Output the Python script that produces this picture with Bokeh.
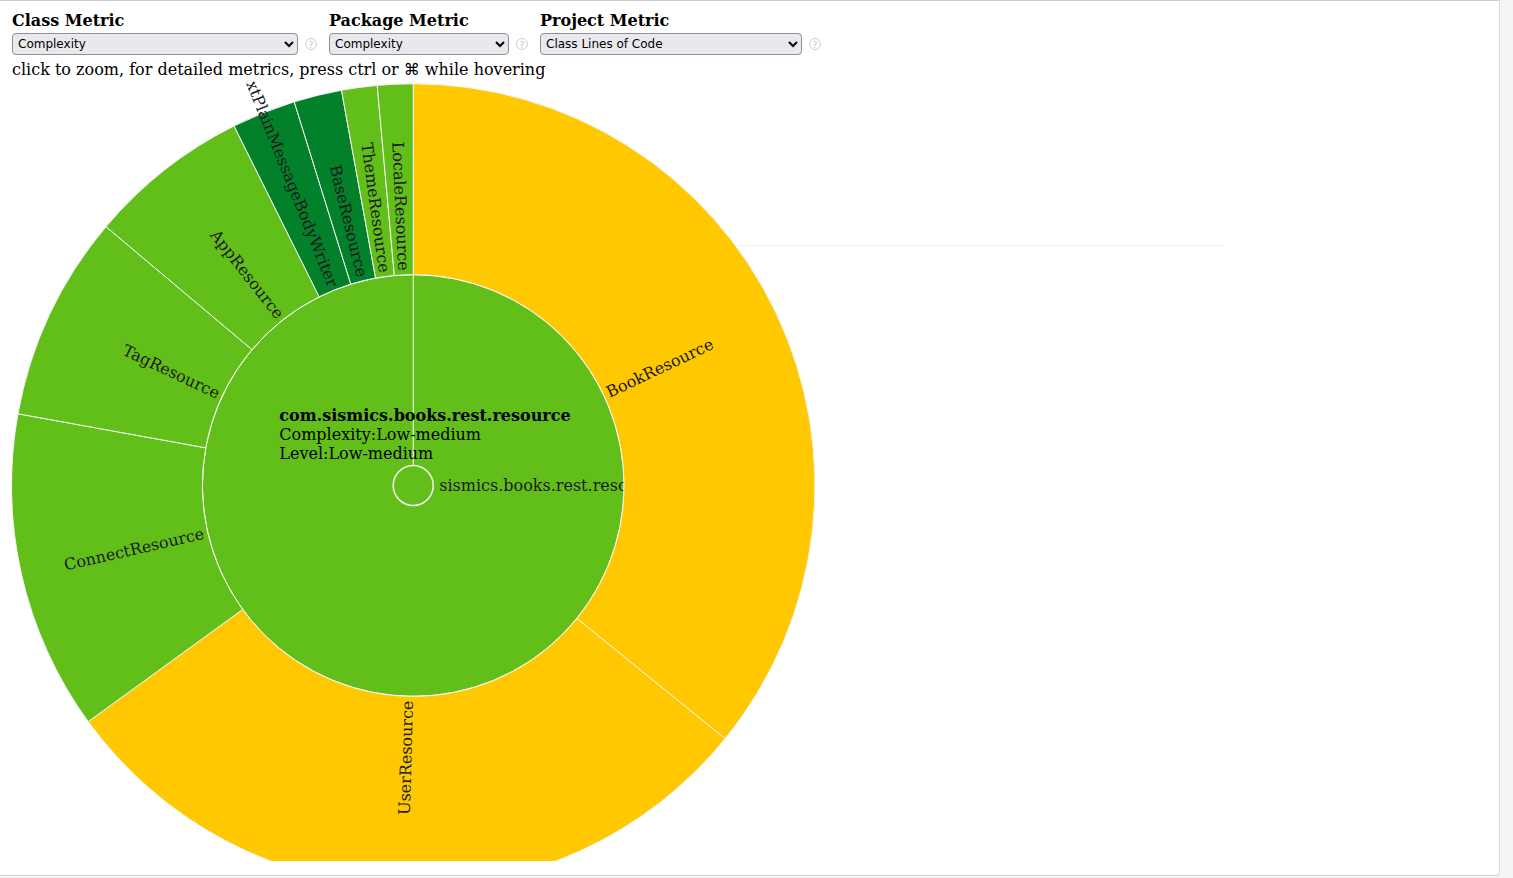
import math
from bokeh.plotting import figure
from bokeh.models import Range1d, Div, ColumnDataSource
from bokeh.layouts import column
from bokeh.core.properties import value
from bokeh.embed import file_html
from bokeh.resources import INLINE

# ---------------- data ----------------
classes = ["BookResource", "UserResource", "ConnectResource", "TagResource",
           "AppResource", "TextPlainMessageBodyWriter", "BaseResource",
           "ThemeResource", "LocaleResource"]
class_loc = [502, 408, 180, 116, 91, 36, 27, 20, 20]
class_complexity = ["Medium-high", "Medium-high", "Low-medium", "Low-medium",
                    "Low-medium", "Low", "Low", "Low-medium", "Low-medium"]
package_name = "com.sismics.books.rest.resource"
package_complexity = "Low-medium"
package_level = "Low-medium"
root_label = "sismics.books.rest.resource"
level_colors = {"Low": "#03802A", "Low-medium": "#62BF1A", "Medium-high": "#FFC800"}
metric_titles = ["Class Metric", "Package Metric", "Project Metric"]
metric_selected = ["Complexity", "Complexity", "Class Lines of Code"]
hint = "click to zoom, for detailed metrics, press ctrl or \u2318 while hovering"

# ---------------- geometry ----------------
W, H = 1500, 780
cx, cy = 413, 376
r0, r1, r2 = 20, 211, 402
SERIF = value("DejaVu Serif")

total = float(sum(class_loc))
starts, ends, mids = [], [], []
acc = 0.0
for v in class_loc:
    t0 = acc / total * 2 * math.pi
    acc += v
    t1 = acc / total * 2 * math.pi
    starts.append(math.pi / 2 - t0)
    ends.append(math.pi / 2 - t1)
    mids.append((t0 + t1) / 2)

outer = ColumnDataSource(dict(
    name=classes, start=starts, end=ends,
    color=[level_colors[c] for c in class_complexity]))

p = figure(width=W, height=H, x_range=Range1d(0, W), y_range=Range1d(0, H),
           output_backend="svg", toolbar_location=None, min_border=0,
           outline_line_color=None, background_fill_color="white",
           border_fill_color="white")
p.axis.visible = False
p.grid.visible = False

# faint guide line
p.segment(x0=[735], y0=[616], x1=[1224], y1=[616], line_color="#f0f0f0", line_width=1)

# package ring + root circle
pkg_color = level_colors[package_complexity]
p.annulus(x=cx, y=cy, inner_radius=r0, outer_radius=r1, fill_color=pkg_color,
          line_color="white", line_width=1)
p.segment(x0=[cx], y0=[cy + r0], x1=[cx], y1=[cy + r1], line_color="white", line_width=1)
p.circle(x=[cx], y=[cy], radius=r0, fill_color=pkg_color, line_color="#eeeeee", line_width=1.5)
p.text(x=[cx + 26], y=[cy], text=[root_label], text_font=SERIF, text_font_size="16px",
       text_color="#1a1a1a", text_baseline="middle", text_align="left")

# class ring
p.annular_wedge(x=cx, y=cy, inner_radius=r1, outer_radius=r2, start_angle="start",
                end_angle="end", direction="clock", fill_color="color",
                line_color="#f4f4f4", line_width=1, source=outer)

rl = r1 + 4
right = dict(x=[], y=[], text=[], angle=[])
left = dict(x=[], y=[], text=[], angle=[])
for name, tm in zip(classes, mids):
    phi = math.pi / 2 - tm
    x = cx + rl * math.cos(phi)
    y = cy + rl * math.sin(phi)
    if tm < math.pi:
        d = right; ang = phi
    else:
        d = left; ang = phi + math.pi
    d["x"].append(x); d["y"].append(y); d["text"].append(name); d["angle"].append(ang)

p.text(x="x", y="y", text="text", angle="angle", source=ColumnDataSource(right),
       text_font=SERIF, text_font_size="16px", text_color="#1a1a1a",
       text_align="left", text_baseline="middle")
p.text(x="x", y="y", text="text", angle="angle", source=ColumnDataSource(left),
       text_font=SERIF, text_font_size="16px", text_color="#1a1a1a",
       text_align="right", text_baseline="middle")

# info text
p.text(x=[279], y=[446], text=[package_name], text_font=SERIF, text_font_size="16px",
       text_font_style="bold", text_color="#000", text_baseline="middle")
p.text(x=[279, 279], y=[427, 408],
       text=["Complexity:" + package_complexity, "Level:" + package_level],
       text_font=SERIF, text_font_size="16px", text_color="#000", text_baseline="middle")

# ---------------- header (native controls) ----------------
lefts = [12, 329, 540]
widths = [286, 180, 262]
parts = []
sel_style = ("position:absolute;top:32px;height:22px;box-sizing:border-box;"
             "font-family:'DejaVu Sans',sans-serif;font-size:12px;color:#000;"
             "background:#e9e9ed;border:1px solid #8f8f9d;border-radius:4px;padding:0 1px;")
for t, s, lx, w in zip(metric_titles, metric_selected, lefts, widths):
    parts.append(f"<div style=\"position:absolute;left:{lx}px;top:9px;font-weight:bold;"
                 f"font-size:16px;white-space:nowrap;\">{t}</div>")
    parts.append(f"<select style=\"{sel_style}left:{lx}px;width:{w}px;\"><option>{s}</option></select>")
    parts.append(f"<div style=\"position:absolute;left:{lx + w + 7}px;top:37px;width:12px;height:12px;"
                 "border:1px solid #d0d0d0;border-radius:50%;color:#c0c0c0;font-family:'DejaVu Sans',sans-serif;"
                 "font-size:9px;line-height:12px;text-align:center;\">?</div>")
parts.append(f"<div style=\"position:absolute;left:12px;top:58px;font-size:16px;white-space:nowrap;\">{hint}</div>")
html = ("<div style=\"position:relative;width:1499px;height:80px;font-family:'DejaVu Serif',serif;color:#000;\">"
        + "".join(parts) + "</div>")
header = Div(text=html, width=1499, height=80, margin=0)

page = column(header, p, width=1500, height=876, spacing=0,
              styles={"background": "white", "border-top": "1px solid #cfcfcf",
                      "border-right": "1px solid #dcdcdc", "border-bottom": "1px solid #d0d0d0",
                      "border-bottom-right-radius": "4px", "box-sizing": "border-box"})
outer_box = column(page, width=1513, height=878, styles={"background": "#f5f5f5"})

open("out.html", "w").write(file_html(outer_box, INLINE))
